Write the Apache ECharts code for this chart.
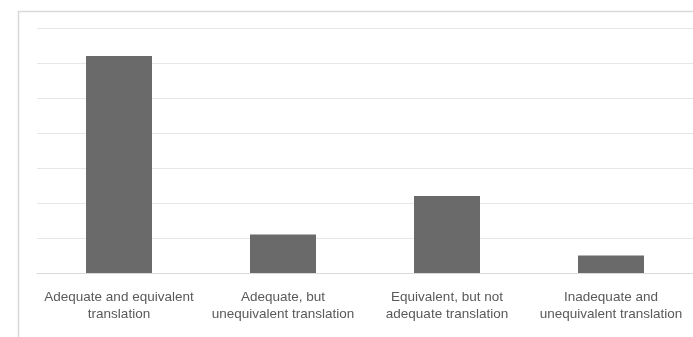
<!DOCTYPE html>
<html>
<head>
<meta charset="utf-8">
<script src="https://cdn.jsdelivr.net/npm/echarts@6/dist/echarts.min.js"></script>
<style>
  html, body { margin: 0; padding: 0; background: #fff; }
  #chart { width: 693px; height: 337px; }
</style>
</head>
<body>
<div id="chart"></div>
<script>
const categories = [
  "Adequate and equivalent\ntranslation",
  "Adequate, but\nunequivalent translation",
  "Equivalent, but not\nadequate translation",
  "Inadequate and\nunequivalent translation"
]
const values = [62, 11, 22, 5]

const chart = echarts.init(document.getElementById("chart"))

let options = {
  backgroundColor: "#ffffff",
  animation: false,
  graphic: [{
    type: "rect",
    shape: { x: 18.5, y: 11.5, width: 700, height: 360 },
    style: { fill: "none", stroke: "#d9d9d9", lineWidth: 1.5 },
    silent: true
  }],
  grid: { left: 37, right: 0, top: 28, bottom: 64 },
  xAxis: {
    type: "category",
    data: categories,
    axisTick: { show: false },
    axisLine: { lineStyle: { color: "#d9d9d9", width: 1 } },
    axisLabel: {
      interval: 0,
      margin: 16,
      color: "#595959",
      fontFamily: "Liberation Sans",
      fontSize: 13.5,
      lineHeight: 17
    }
  },
  yAxis: {
    type: "value",
    min: 0,
    max: 70,
    interval: 10,
    axisLabel: { show: false },
    axisLine: { show: false },
    axisTick: { show: false },
    splitLine: { lineStyle: { color: "#e6e6e6", width: 1 } }
  },
  series: [{
    type: "bar",
    data: values,
    barWidth: 66,
    itemStyle: { color: "#6a6a6a" }
  }]
}

chart.setOption(options)
</script>
</body>
</html>
